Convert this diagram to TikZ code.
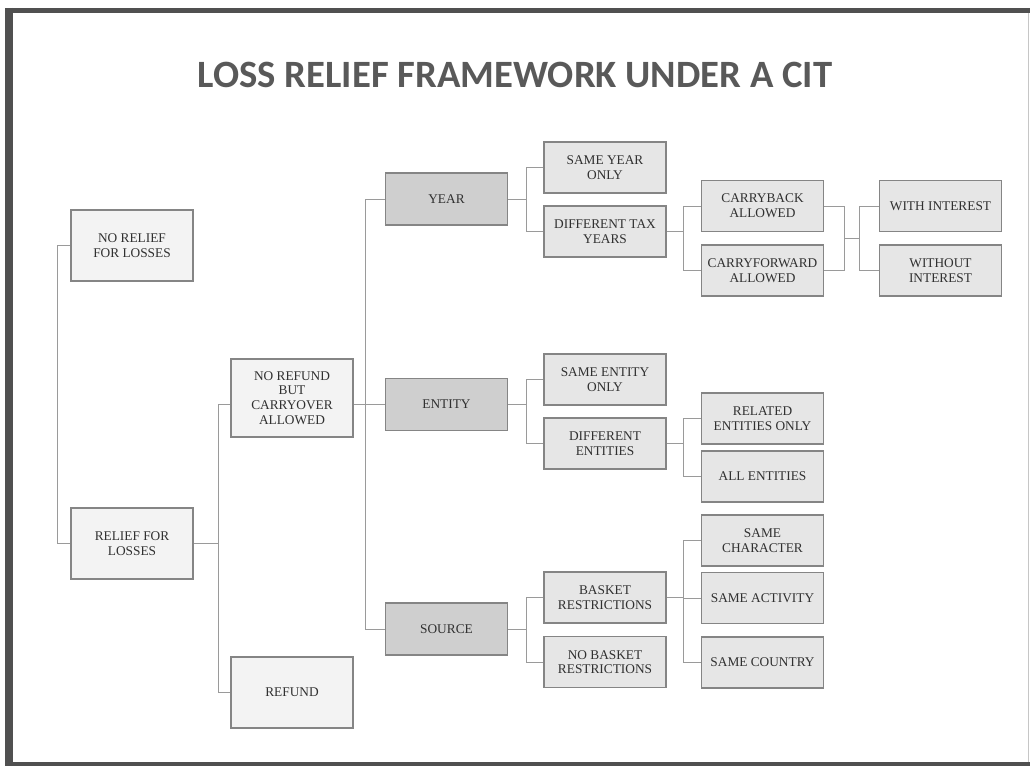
\documentclass[tikz,border=0pt]{standalone}
\usepackage{fontspec}
\setmainfont{Liberation Serif}
\newfontfamily\titlefont{Carlito}
\usepackage{tikz}
\usepackage{xcolor}
\usetikzlibrary{calc}

\definecolor{framegray}{HTML}{505050}
\definecolor{boxline}{HTML}{858585}
\definecolor{linkgray}{HTML}{9A9A9A}
\definecolor{lightfill}{HTML}{F3F3F3}
\definecolor{boxfill}{HTML}{E6E6E6}
\definecolor{catfill}{HTML}{CFCFCF}
\definecolor{boxtext}{HTML}{303030}
\definecolor{titlegray}{HTML}{595959}

\tikzset{
  box/.style={draw=boxline, fill=boxfill, line width=0.9pt, text=boxtext, align=center,
    font=\fontsize{10}{11}\selectfont, inner sep=2pt,
    minimum width=91.5pt, minimum height=38.25pt},
  outerbox/.style={box, fill=lightfill, minimum height=53.25pt},
  catbox/.style={box, fill=catfill, minimum height=39pt},
  link/.style={linkgray, line width=0.7pt},
}

\begin{document}
\begin{tikzpicture}[x=0.75pt, y=-0.75pt]
    % Page area (image pixels, y pointing down)
    \useasboundingbox (0,0) rectangle (1030,766);
    \fill[white] (0,0) rectangle (1030,766);

    % Slide frame
    \draw[framegray, line width=3.75pt] (5,10.5) -- (1030,10.5);% top
    \draw[framegray, line width=6pt] (9,8) -- (9,766);% left
    \draw[framegray, line width=3pt] (5,764) -- (1030,764);% bottom
    \draw[gray!45, line width=0.75pt] (1028,13) -- (1028,762);% right

    % Title
    \node[font=\titlefont\bfseries\fontsize{29}{34}\selectfont, text=titlegray] (title) at (515,75) {LOSS RELIEF FRAMEWORK UNDER A CIT};

    % Left column
    \node[outerbox] (norelief) at (132,245.5) {NO RELIEF\\FOR LOSSES};
    \node[outerbox] (relief) at (132,543.5) {RELIEF FOR\\LOSSES};
    \node[outerbox, minimum height=58.5pt] (norefund) at (292,398) {NO REFUND\\BUT\\CARRYOVER\\ALLOWED};
    \node[outerbox] (refund) at (292,692.5) {REFUND};

    % Categories
    \node[catbox] (year) at (446.5,199) {YEAR};
    \node[catbox] (entity) at (446.5,404.5) {ENTITY};
    \node[catbox] (source) at (446.5,629) {SOURCE};

    % First level of options
    \node[box] (sameyear) at (605,167.5) {SAME YEAR\\ONLY};
    \node[box] (difftax) at (605,231.5) {DIFFERENT TAX\\YEARS};
    \node[box] (sameent) at (605,379.5) {SAME ENTITY\\ONLY};
    \node[box] (diffent) at (605,443.5) {DIFFERENT\\ENTITIES};
    \node[box] (basket) at (605,597.5) {BASKET\\RESTRICTIONS};
    \node[box] (nobasket) at (605,662) {NO BASKET\\RESTRICTIONS};

    % Second level of options
    \node[box] (carryback) at (762.5,206) {CARRYBACK\\ALLOWED};
    \node[box] (carryfwd) at (762.5,270.5) {CARRYFORWARD\\ALLOWED};
    \node[box] (related) at (762.5,418.5) {RELATED\\ENTITIES ONLY};
    \node[box] (allent) at (762.5,476.5) {ALL ENTITIES};
    \node[box] (samechar) at (762.5,540.5) {SAME\\CHARACTER};
    \node[box] (sameact) at (762.5,598) {SAME ACTIVITY};
    \node[box] (samecountry) at (762.5,662.5) {SAME COUNTRY};

    % Interest
    \node[box] (withint) at (940.5,206) {WITH INTEREST};
    \node[box] (withoutint) at (940.5,270.5) {WITHOUT\\INTEREST};

    % Connectors on the left
    \draw[link] (norelief.west) -- ++(-13,0) |- (relief.west);
    \draw[link] (relief.east) -- ++(25,0) |- (norefund.west |- entity.west);
    \draw[link] (relief.east) -- ++(25,0) |- (refund.west);
    \draw[link] (entity.west -| norefund.east) -- (entity.west);
    \draw[link] (entity.west) -- ++(-19,0) |- (year.west);
    \draw[link] (entity.west) -- ++(-19,0) |- (source.west);

    % Connectors to the options
    \foreach \p/\c in {year/sameyear, year/difftax, entity/sameent, entity/diffent, source/basket, source/nobasket}
        \draw[link] (\p.east) -- ++(18,0) |- (\c.west);
    \foreach \p/\c in {difftax/carryback, difftax/carryfwd, diffent/related, diffent/allent, basket/samechar, basket/sameact, basket/samecountry}
        \draw[link] (\p.east) -- ++(17,0) |- (\c.west);

    % Double bracket to the interest boxes
    \draw[link] (carryback.east) -- ++(20,0) coordinate (cbend) |- (carryfwd.east);
    \draw[link] (withint.west) -- ++(-19,0) coordinate (wiend) |- (withoutint.west);
    \coordinate (jmid) at ($(cbend)!0.5!(cbend |- carryfwd.east)$);
    \draw[link] (jmid) -- (jmid -| wiend);
\end{tikzpicture}
\end{document}
